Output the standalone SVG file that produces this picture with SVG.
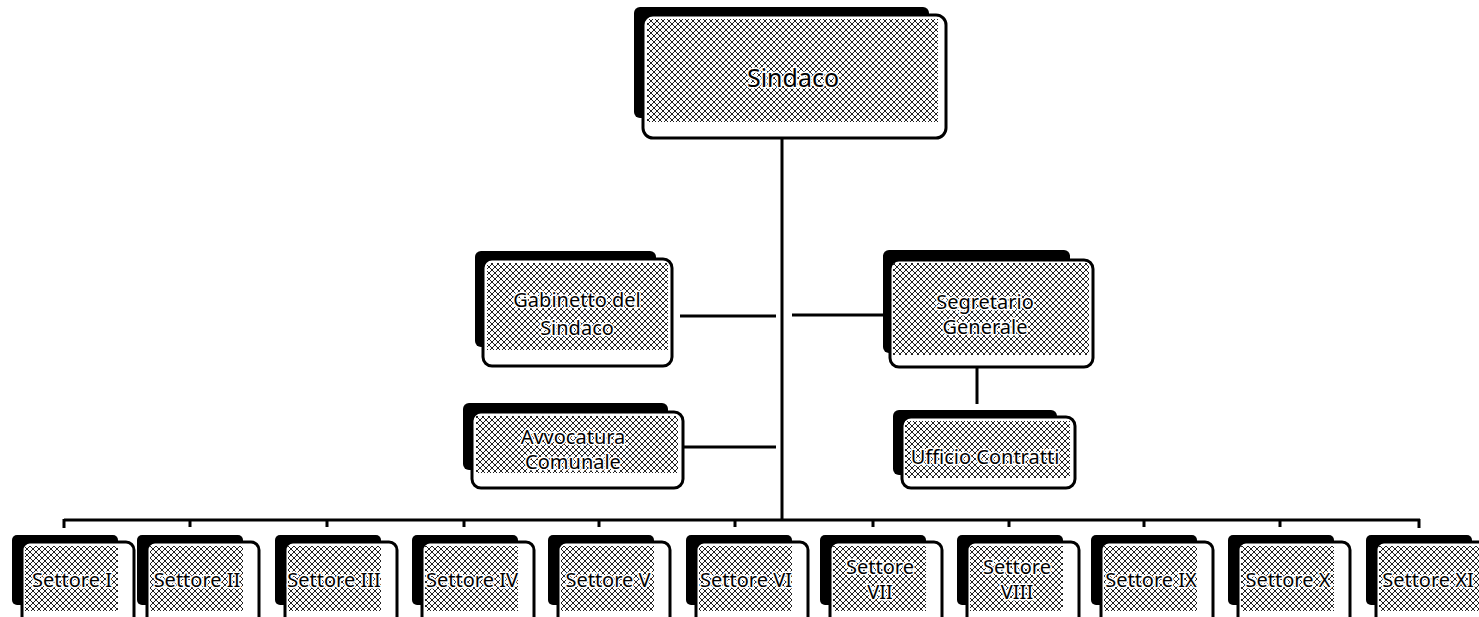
<svg xmlns="http://www.w3.org/2000/svg" width="1479" height="617" viewBox="0 0 1479 617">
<defs>
<pattern id="hatch" width="6" height="6" patternUnits="userSpaceOnUse">
<rect width="6" height="6" fill="#fff"/>
<path d="M0 0h1v1H0zM1 1h1v1H1zM2 2h1v1H2zM3 3h1v1H3zM4 4h1v1H4zM5 5h1v1H5zM5 0h1v1H5zM4 1h1v1H4zM2 3h1v1H2zM1 4h1v1H1zM0 5h1v1H0zM3 2h1v1H3z" fill="#222"/>
</pattern>
</defs>
<style>
.sh{fill:#000}
.fr{fill:#fff;stroke:#000;stroke-width:3}
.ht{fill:url(#hatch)}
.t{font-family:"Noto Sans","DejaVu Sans",sans-serif;font-size:20px;fill:#000;text-anchor:middle;stroke:#fff;stroke-width:3;paint-order:stroke;stroke-linejoin:round}
.big{font-size:25px}
.ln{stroke:#000;stroke-width:3;fill:none}
</style>
<g id="connectors">
<line class="ln" x1="782" y1="138" x2="782" y2="521"/>
<line class="ln" x1="680" y1="316" x2="776" y2="316"/>
<line class="ln" x1="792" y1="315" x2="890" y2="315"/>
<line class="ln" x1="683" y1="447" x2="776" y2="447"/>
<line class="ln" x1="977" y1="367" x2="977" y2="404"/>
<line class="ln" x1="64" y1="520" x2="1420" y2="520"/>
<path class="ln" d="M64 519v9M190 520v7M327 520v7M464 520v7M599 520v7M735 520v7M873 520v7M1009 520v7M1144 520v7M1280 520v7M1419 519v9"/>
</g>
<g id="sindaco">
<rect class="sh" x="634" y="7" width="295" height="111" rx="6"/>
<rect class="fr" x="643" y="15" width="303" height="123" rx="10"/>
<rect class="ht" x="647" y="19" width="291" height="103"/>
<text class="t big" x="793" y="87">Sindaco</text>
</g>
<g id="gabinetto">
<rect class="sh" x="475" y="251" width="181" height="96" rx="6"/>
<rect class="fr" x="483" y="259" width="189" height="107" rx="9"/>
<rect class="ht" x="487" y="263" width="181" height="87"/>
<text class="t" x="577" y="307">Gabinetto del</text>
<text class="t" x="577" y="335">Sindaco</text>
</g>
<g id="segretario">
<rect class="sh" x="883" y="250" width="187" height="103" rx="6"/>
<rect class="fr" x="890" y="260" width="203" height="107" rx="9"/>
<rect class="ht" x="893" y="263" width="196" height="92"/>
<text class="t" x="985" y="309">Segretario</text>
<text class="t" x="985" y="334">Generale</text>
</g>
<g id="avvocatura">
<rect class="sh" x="463" y="403" width="205" height="67" rx="6"/>
<rect class="fr" x="472" y="412" width="211" height="76" rx="9"/>
<rect class="ht" x="476" y="416" width="202" height="57"/>
<text class="t" x="573" y="444">Avvocatura</text>
<text class="t" x="573" y="469">Comunale</text>
</g>
<g id="ufficio">
<rect class="sh" x="893" y="410" width="164" height="65" rx="6"/>
<rect class="fr" x="902" y="417" width="173" height="71" rx="9"/>
<rect class="ht" x="905" y="421" width="165" height="57"/>
<text class="t" x="985" y="464">Ufficio Contratti</text>
</g>
<g id="settore1"><rect class="sh" x="12" y="535" width="106" height="70" rx="5"/><rect class="fr" x="22" y="542" width="112" height="90" rx="8"/><rect class="ht" x="25" y="546" width="93" height="65"/><text class="t" x="72" y="587">Settore I</text></g>
<g id="settore2"><rect class="sh" x="137" y="535" width="106" height="70" rx="5"/><rect class="fr" x="147" y="542" width="112" height="90" rx="8"/><rect class="ht" x="150" y="546" width="93" height="65"/><text class="t" x="197" y="587">Settore II</text></g>
<g id="settore3"><rect class="sh" x="275" y="535" width="106" height="70" rx="5"/><rect class="fr" x="285" y="542" width="112" height="90" rx="8"/><rect class="ht" x="288" y="546" width="93" height="65"/><text class="t" x="334" y="587">Settore III</text></g>
<g id="settore4"><rect class="sh" x="412" y="535" width="106" height="70" rx="5"/><rect class="fr" x="422" y="542" width="112" height="90" rx="8"/><rect class="ht" x="425" y="546" width="93" height="65"/><text class="t" x="472" y="587">Settore IV</text></g>
<g id="settore5"><rect class="sh" x="548" y="535" width="106" height="70" rx="5"/><rect class="fr" x="558" y="542" width="112" height="90" rx="8"/><rect class="ht" x="561" y="546" width="93" height="65"/><text class="t" x="608" y="587">Settore V</text></g>
<g id="settore6"><rect class="sh" x="686" y="535" width="106" height="70" rx="5"/><rect class="fr" x="696" y="542" width="112" height="90" rx="8"/><rect class="ht" x="699" y="546" width="93" height="65"/><text class="t" x="746" y="587">Settore VI</text></g>
<g id="settore7"><rect class="sh" x="820" y="535" width="106" height="70" rx="5"/><rect class="fr" x="830" y="542" width="112" height="90" rx="8"/><rect class="ht" x="833" y="546" width="93" height="65"/><text class="t" x="880" y="574">Settore</text><text class="t" x="880" y="599">VII</text></g>
<g id="settore8"><rect class="sh" x="957" y="535" width="106" height="70" rx="5"/><rect class="fr" x="967" y="542" width="112" height="90" rx="8"/><rect class="ht" x="970" y="546" width="93" height="65"/><text class="t" x="1017" y="574">Settore</text><text class="t" x="1017" y="599">VIII</text></g>
<g id="settore9"><rect class="sh" x="1091" y="535" width="106" height="70" rx="5"/><rect class="fr" x="1101" y="542" width="112" height="90" rx="8"/><rect class="ht" x="1104" y="546" width="93" height="65"/><text class="t" x="1151" y="587">Settore IX</text></g>
<g id="settore10"><rect class="sh" x="1228" y="535" width="106" height="70" rx="5"/><rect class="fr" x="1238" y="542" width="112" height="90" rx="8"/><rect class="ht" x="1241" y="546" width="93" height="65"/><text class="t" x="1288" y="587">Settore X</text></g>
<g id="settore11"><rect class="sh" x="1366" y="535" width="106" height="70" rx="5"/><rect class="fr" x="1376" y="542" width="112" height="90" rx="8"/><rect class="ht" x="1379" y="546" width="100" height="65"/><text class="t" x="1428" y="587">Settore XI</text></g>
</svg>
